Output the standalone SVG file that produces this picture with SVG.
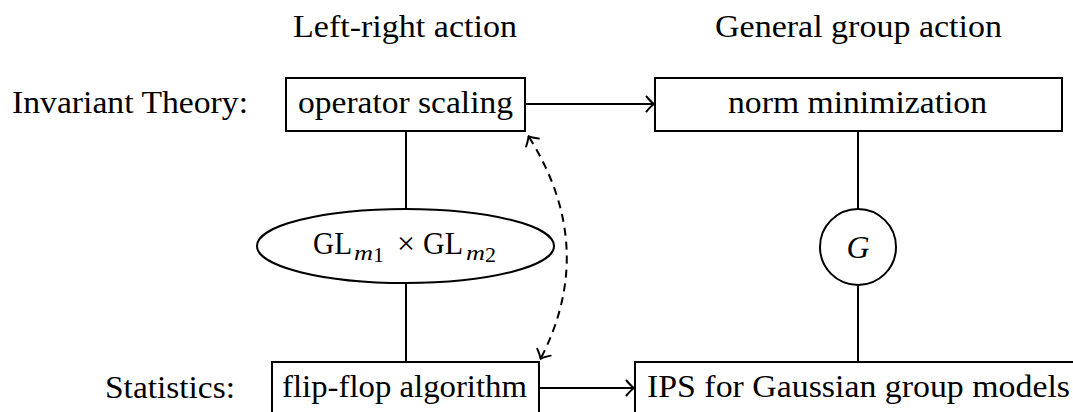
<svg xmlns="http://www.w3.org/2000/svg" width="1073" height="412" viewBox="0 0 1073 412">
<defs>
<style>
.t{font-family:"Liberation Serif","DejaVu Serif",serif;font-size:32px;fill:#000}
.s{font-family:"Liberation Serif","DejaVu Serif",serif;font-size:22px;fill:#000}
.i{font-style:italic}
.b{fill:#fff;stroke:#000;stroke-width:2}
.c{fill:none;stroke:#000;stroke-width:2}
</style>
<marker id="to" viewBox="-10 -10 12 20" refX="0" refY="0" markerWidth="12" markerHeight="20" markerUnits="userSpaceOnUse" orient="auto-start-reverse">
<path d="M -6.5 -7.5 Q -2 -2 1 0 Q -2 2 -6.5 7.5" fill="none" stroke="#000" stroke-width="2" stroke-linecap="round"/>
</marker>
</defs>
<text class="t" x="293" y="37" textLength="224" lengthAdjust="spacingAndGlyphs">Left-right action</text>
<text class="t" x="715" y="37" textLength="287" lengthAdjust="spacingAndGlyphs">General group action</text>
<text class="t" x="12" y="113" textLength="236" lengthAdjust="spacingAndGlyphs">Invariant Theory:</text>
<text class="t" x="105" y="398" textLength="130" lengthAdjust="spacingAndGlyphs">Statistics:</text>
<g id="connectors">
<line class="c" x1="406" y1="131" x2="406" y2="209"/>
<line class="c" x1="406" y1="283" x2="406" y2="362"/>
<line class="c" x1="858" y1="131" x2="858" y2="209"/>
<line class="c" x1="858" y1="285" x2="858" y2="362"/>
<line class="c" x1="525" y1="104" x2="653" y2="104" marker-end="url(#to)"/>
<line class="c" x1="539" y1="388" x2="633" y2="388" marker-end="url(#to)"/>
<path class="c" d="M 529 137 Q 598 247 541 358" stroke-dasharray="8,6" marker-start="url(#to)" marker-end="url(#to)"/>
</g>
<g id="operator-scaling">
<rect class="b" x="286" y="78" width="239" height="53"/>
<text class="t" x="298" y="113" textLength="215" lengthAdjust="spacingAndGlyphs">operator scaling</text>
</g>
<g id="norm-minimization">
<rect class="b" x="655" y="78" width="407" height="53"/>
<text class="t" x="728" y="113" textLength="259" lengthAdjust="spacingAndGlyphs">norm minimization</text>
</g>
<g id="gl-group">
<ellipse class="b" cx="405.5" cy="246" rx="148.5" ry="37"/>
<text class="t" x="313" y="254" textLength="39" lengthAdjust="spacingAndGlyphs">GL</text>
<text class="s i" x="354" y="260" textLength="19" lengthAdjust="spacingAndGlyphs">m</text>
<text class="s" x="373" y="262">1</text>
<text class="t" x="397" y="254">×</text>
<text class="t" x="423" y="254" textLength="40" lengthAdjust="spacingAndGlyphs">GL</text>
<text class="s i" x="466" y="260" textLength="19" lengthAdjust="spacingAndGlyphs">m</text>
<text class="s" x="485" y="262">2</text>
</g>
<g id="g-group">
<circle class="b" cx="858" cy="247" r="38"/>
<text class="t i" x="858" y="258" text-anchor="middle">G</text>
</g>
<g id="flip-flop">
<rect class="b" x="272" y="362" width="267" height="55"/>
<text class="t" x="282" y="397" textLength="245" lengthAdjust="spacingAndGlyphs">flip-flop algorithm</text>
</g>
<g id="ips">
<rect class="b" x="635" y="362" width="448" height="55"/>
<text class="t" x="647" y="397" textLength="423" lengthAdjust="spacingAndGlyphs">IPS for Gaussian group models</text>
</g>
</svg>
